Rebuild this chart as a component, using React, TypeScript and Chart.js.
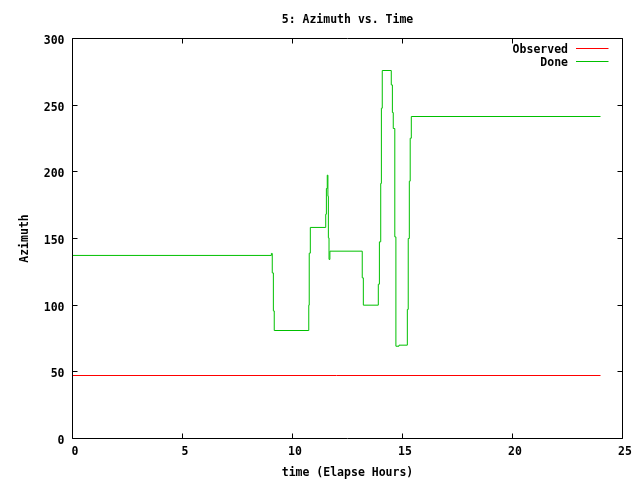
import React, { useEffect, useRef } from 'react';
import { Chart, registerables } from 'chart.js';

Chart.register(...registerables);

const chartTitle = '5: Azimuth vs. Time';
const xAxisTitle = 'time (Elapse Hours)';
const yAxisTitle = 'Azimuth';
const seriesNames = ['Observed', 'Done'];
const seriesColors = ['#ff0000', '#00c000'];

const xTickValues = [0, 5, 10, 15, 20, 25];
const yTickValues = [0, 50, 100, 150, 200, 250, 300];

const observedTimes = [0, 24];
const observedValues = [47.25, 47.25];

const doneTimes = [
  0, 9.04, 9.08, 9.13, 9.17, 10.74, 10.76, 10.81, 11.51, 11.54, 11.58, 11.61,
  11.63, 11.66, 11.7, 13.17, 13.22, 13.9, 13.95, 14.01, 14.04, 14.08, 14.49,
  14.54, 14.58, 14.65, 14.7, 14.84, 15.22, 15.26, 15.31, 15.35, 15.4, 24.0,
];
const doneValues = [
  137.3, 138.8, 124.2, 95.7, 81.0, 100.0, 139.0, 158.3, 168.2, 187.5, 197.5, 181.7,
  150.5, 134.3, 140.5, 120.5, 100.0, 115.7, 147.5, 191.3, 247.7, 276.0, 265.2,
  244.5, 232.5, 151.2, 69.2, 70.0, 96.8, 150.0, 193.0, 225.2, 241.5, 241.5,
];

const FONT = { family: "'DejaVu Sans Mono', monospace", size: 11.5, weight: 'bold' as const };

const gnuFrame = {
  id: 'gnuFrame',
  afterDraw(chart: any) {
    const { ctx, chartArea: a, scales } = chart;
    const L = Math.floor(a.left) + 0.5;
    const R = Math.floor(a.right) + 0.5;
    const T = Math.floor(a.top) + 0.5;
    const B = Math.floor(a.bottom) + 0.5;
    const tl = 5;
    ctx.save();
    ctx.strokeStyle = '#000';
    ctx.lineWidth = 1;
    ctx.beginPath();
    ctx.rect(L, T, R - L, B - T);
    xTickValues.forEach((v) => {
      const px = Math.floor(scales.x.getPixelForValue(v)) + 0.5;
      ctx.moveTo(px, B);
      ctx.lineTo(px, B - tl);
      ctx.moveTo(px, T);
      ctx.lineTo(px, T + tl);
    });
    yTickValues.forEach((v) => {
      const py = Math.floor(scales.y.getPixelForValue(v)) + 0.5;
      ctx.moveTo(L, py);
      ctx.lineTo(L + tl, py);
      ctx.moveTo(R, py);
      ctx.lineTo(R - tl, py);
    });
    ctx.stroke();

    // legend (gnuplot style: text, then line sample)
    ctx.font = `${FONT.weight} ${FONT.size}px ${FONT.family}`;
    ctx.textAlign = 'right';
    ctx.textBaseline = 'middle';
    chart.data.datasets.forEach((ds: any, i: number) => {
      const y = Math.floor(a.top) + 10 + i * 13 + 0.5;
      ctx.fillStyle = '#000';
      ctx.fillText(ds.label, R - 54.5, y + 1.8);
      ctx.strokeStyle = ds.borderColor;
      ctx.beginPath();
      ctx.moveTo(R - 46.5, y);
      ctx.lineTo(R - 14, y);
      ctx.stroke();
    });
    ctx.restore();
  },
};

export default function App() {
  const ref = useRef<HTMLCanvasElement>(null);

  useEffect(() => {
    document.body.style.margin = '0';
    const canvas = ref.current;
    if (!canvas) return;
    const chart = new Chart(canvas, {
      type: 'line',
      data: {
        datasets: [
          {
            label: seriesNames[0],
            data: observedTimes.map((t, i) => ({ x: t, y: observedValues[i] })),
            borderColor: seriesColors[0],
            backgroundColor: seriesColors[0],
            borderWidth: 1,
            pointRadius: 0,
            stepped: 'before',
            fill: false,
          },
          {
            label: seriesNames[1],
            data: doneTimes.map((t, i) => ({ x: t, y: doneValues[i] })),
            borderColor: seriesColors[1],
            backgroundColor: seriesColors[1],
            borderWidth: 1,
            pointRadius: 0,
            stepped: 'before',
            fill: false,
          },
        ],
      },
      options: {
        responsive: false,
        animation: false,
        events: [],
        layout: { padding: { left: 0, right: 17.5, top: 0, bottom: 0 } },
        plugins: {
          legend: { display: false },
          tooltip: { enabled: false },
          title: {
            display: true,
            text: chartTitle,
            fullSize: false,
            color: '#000',
            font: FONT,
            padding: { top: 13.6, bottom: 11.1 },
          },
        },
        scales: {
          x: {
            type: 'linear',
            min: 0,
            max: 25,
            afterBuildTicks: (s: any) => {
              s.ticks = xTickValues.map((v) => ({ value: v }));
            },
            grid: { display: false, drawTicks: false },
            border: { display: false },
            ticks: {
              color: '#000',
              font: FONT,
              padding: 7,
              labelOffset: 2.5,
              maxRotation: 0,
              autoSkip: false,
            },
            title: {
              display: true,
              text: xAxisTitle,
              color: '#000',
              font: FONT,
              padding: { top: 0, bottom: 0 },
            },
            afterFit: (s: any) => {
              s.height = 41.5;
            },
          },
          y: {
            type: 'linear',
            min: 0,
            max: 300,
            afterBuildTicks: (s: any) => {
              s.ticks = yTickValues.map((v) => ({ value: v }));
            },
            grid: { display: false, drawTicks: false },
            border: { display: false },
            ticks: {
              color: '#000',
              font: FONT,
              padding: 8,
              labelOffset: 2.5,
              autoSkip: false,
            },
            title: {
              display: true,
              text: yAxisTitle,
              color: '#000',
              font: FONT,
              padding: { top: 18, bottom: 0 },
            },
            afterFit: (s: any) => {
              s.width = 72.5;
            },
          },
        },
      },
      plugins: [gnuFrame],
    });
    return () => chart.destroy();
  }, []);

  return (
    <div style={{ width: 640, height: 480, background: '#fff' }}>
      <canvas ref={ref} width={640} height={480} style={{ display: 'block' }} />
    </div>
  );
}
